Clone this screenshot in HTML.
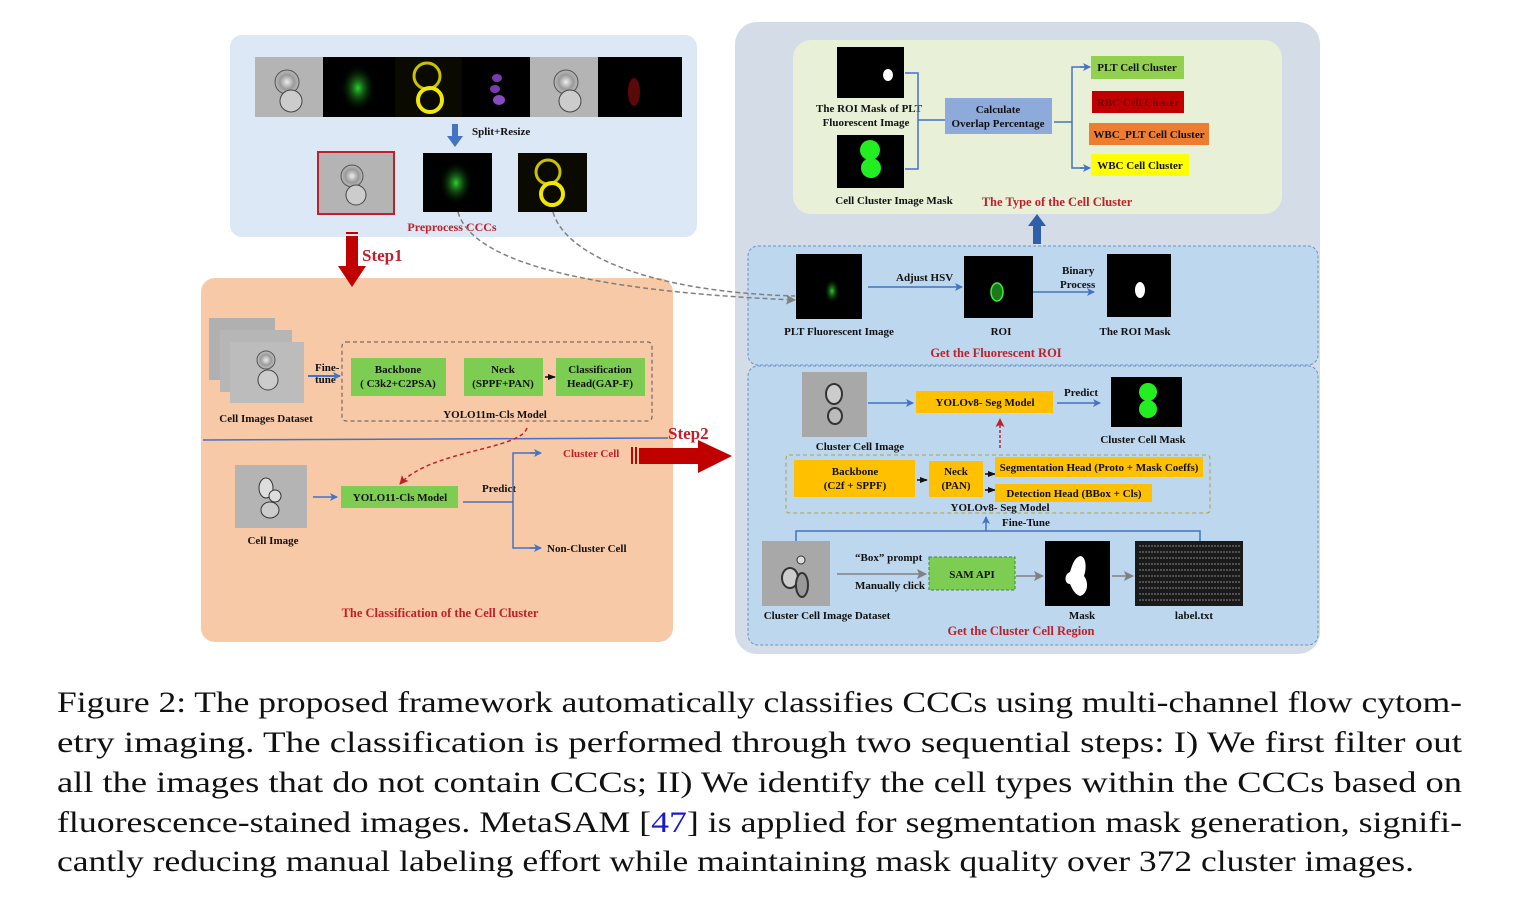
<!DOCTYPE html>
<html><head><meta charset="utf-8"><style>
html,body{margin:0;padding:0;background:#fff;}
svg{display:block;}
.b{font-family:"Liberation Serif",serif;font-weight:bold;font-size:11px;fill:#111;}
.r{font-family:"Liberation Serif",serif;font-weight:bold;fill:#c0202a;}
.cap{font-family:"Liberation Serif",serif;font-size:30px;fill:#111;}
</style></head><body>
<svg width="1513" height="912" viewBox="0 0 1513 912" xmlns="http://www.w3.org/2000/svg">
<defs>
<marker id="ab" markerWidth="8" markerHeight="8" refX="7" refY="4" orient="auto" markerUnits="userSpaceOnUse"><path d="M0,0 L8,4 L0,8 L2,4z" fill="#4472c4"/></marker>
<marker id="ak" markerWidth="8" markerHeight="8" refX="7" refY="4" orient="auto" markerUnits="userSpaceOnUse"><path d="M0,1 L8,4 L0,7z" fill="#111"/></marker>
<marker id="ag" markerWidth="10" markerHeight="10" refX="9" refY="5" orient="auto" markerUnits="userSpaceOnUse"><path d="M0,0 L10,5 L0,10 L2,5z" fill="#808080"/></marker>
<marker id="ar" markerWidth="9" markerHeight="9" refX="8" refY="4.5" orient="auto" markerUnits="userSpaceOnUse"><path d="M0,0 L9,4.5 L0,9 L2,4.5z" fill="#c0202a"/></marker>
<radialGradient id="gg"><stop offset="0" stop-color="#2fd02f"/><stop offset="1" stop-color="#000" stop-opacity="0"/></radialGradient>
<radialGradient id="gc"><stop offset="0" stop-color="#eee"/><stop offset="0.6" stop-color="#999"/><stop offset="1" stop-color="#aaa" stop-opacity="0"/></radialGradient>
</defs>

<!-- Top-left panel -->
<rect x="230" y="35" width="467" height="202" rx="12" fill="#dce8f5"/>
<rect x="255" y="57" width="68" height="60" fill="#b4b4b4"/>
<circle cx="287" cy="82" r="12" fill="url(#gc)" stroke="#555"/><circle cx="291" cy="101" r="11" fill="#ccc" stroke="#444"/>
<rect x="323" y="57" width="72" height="60" fill="#000"/>
<ellipse cx="358" cy="88" rx="18" ry="24" fill="url(#gg)"/>
<rect x="395" y="57" width="67" height="60" fill="#0a0a00"/>
<circle cx="427" cy="76" r="13" fill="none" stroke="#c8c000" stroke-width="3"/><circle cx="430" cy="100" r="12" fill="none" stroke="#f0e800" stroke-width="4"/>
<rect x="462" y="57" width="68" height="60" fill="#000"/>
<ellipse cx="497" cy="78" rx="5" ry="4" fill="#7a3ab0"/><ellipse cx="495" cy="89" rx="5" ry="4" fill="#7a3ab0"/><ellipse cx="499" cy="100" rx="6" ry="5" fill="#8a4ac0"/>
<rect x="530" y="57" width="68" height="60" fill="#b4b4b4"/>
<circle cx="566" cy="82" r="12" fill="url(#gc)" stroke="#555"/><circle cx="570" cy="101" r="11" fill="#ccc" stroke="#444"/>
<rect x="598" y="57" width="84" height="60" fill="#000"/>
<ellipse cx="634" cy="92" rx="6" ry="14" fill="#5a0808"/>
<path d="M452,124 h6 v12 h5 l-8,11 l-8,-11 h5z" fill="#4472c4"/>
<text x="472" y="135" class="b" font-size="10">Split+Resize</text>
<rect x="318" y="152" width="76" height="62" fill="#b4b4b4" stroke="#c0202a" stroke-width="2"/>
<circle cx="352" cy="176" r="11" fill="url(#gc)" stroke="#555"/><circle cx="356" cy="195" r="10" fill="#ccc" stroke="#444"/>
<rect x="423" y="153" width="69" height="59" fill="#000"/>
<ellipse cx="456" cy="183" rx="17" ry="22" fill="url(#gg)"/>
<rect x="518" y="153" width="69" height="59" fill="#0a0a00"/>
<circle cx="548" cy="172" r="12" fill="none" stroke="#c8c000" stroke-width="3"/><circle cx="552" cy="194" r="11" fill="none" stroke="#f0e800" stroke-width="4"/>
<text x="452" y="231" class="r" font-size="12" text-anchor="middle">Preprocess CCCs</text>

<!-- Orange panel -->
<rect x="201" y="278" width="472" height="364" rx="14" fill="#f7c9a7"/>
<rect x="346" y="232" width="12" height="2" fill="#c00000"/><rect x="346" y="236" width="12" height="32" fill="#c00000"/>
<path d="M338,266 h28 l-14,21z" fill="#c00000"/>
<text x="362" y="261" class="r" font-size="17">Step1</text>

<rect x="209" y="318" width="66" height="62" fill="#b0b0b0"/>
<rect x="220" y="330" width="72" height="62" fill="#b6b6b6"/>
<rect x="230" y="342" width="74" height="61" fill="#bcbcbc"/>
<circle cx="266" cy="360" r="9" fill="url(#gc)" stroke="#555"/><circle cx="268" cy="380" r="10" fill="#ccc" stroke="#444"/>
<text x="315" y="371" class="b">Fine-</text><text x="315" y="383" class="b">tune</text>
<line x1="308" y1="376" x2="340" y2="376" stroke="#4472c4" stroke-width="2" marker-end="url(#ab)"/>
<rect x="342" y="342" width="310" height="79" rx="4" fill="none" stroke="#555" stroke-dasharray="4,3"/>
<rect x="351" y="358" width="95" height="38" fill="#7dcd52"/>
<text x="398" y="373" class="b" text-anchor="middle">Backbone</text><text x="398" y="387" class="b" text-anchor="middle">( C3k2+C2PSA)</text>
<rect x="464" y="358" width="79" height="38" fill="#7dcd52"/>
<text x="503" y="373" class="b" text-anchor="middle">Neck</text><text x="503" y="387" class="b" text-anchor="middle">(SPPF+PAN)</text>
<line x1="545" y1="377" x2="555" y2="377" stroke="#111" stroke-width="1.5" marker-end="url(#ak)"/>
<rect x="556" y="358" width="89" height="38" fill="#7dcd52"/>
<text x="600" y="373" class="b" text-anchor="middle">Classification</text><text x="600" y="387" class="b" text-anchor="middle">Head(GAP-F)</text>
<text x="495" y="418" class="b" text-anchor="middle">YOLO11m-Cls Model</text>
<text x="266" y="422" class="b" text-anchor="middle">Cell Images Dataset</text>
<line x1="203" y1="440" x2="668" y2="438" stroke="#4472c4" stroke-width="1.5"/>
<path d="M527,428 C520,450 430,450 400,484" fill="none" stroke="#c0202a" stroke-width="1.5" stroke-dasharray="4,3" marker-end="url(#ar)"/>
<rect x="235" y="465" width="72" height="63" fill="#b4b4b4"/>
<ellipse cx="266" cy="488" rx="7" ry="10" fill="#ddd" stroke="#333"/><circle cx="275" cy="496" r="6" fill="#ddd" stroke="#333"/><ellipse cx="270" cy="510" rx="9" ry="8" fill="#ccc" stroke="#333"/>
<text x="273" y="544" class="b" text-anchor="middle">Cell Image</text>
<line x1="313" y1="497" x2="337" y2="497" stroke="#4472c4" stroke-width="1.5" marker-end="url(#ab)"/>
<rect x="341" y="486" width="117" height="22" fill="#7dcd52"/>
<text x="400" y="501" class="b" text-anchor="middle">YOLO11-Cls Model</text>
<text x="482" y="492" class="b">Predict</text>
<polyline points="463,502 513,502" fill="none" stroke="#4472c4" stroke-width="1.5"/>
<polyline points="540,453 513,453 513,548 540,548" fill="none" stroke="#4472c4" stroke-width="1.5"/>
<line x1="530" y1="453" x2="541" y2="453" stroke="#4472c4" stroke-width="1.5" marker-end="url(#ab)"/>
<line x1="530" y1="548" x2="541" y2="548" stroke="#4472c4" stroke-width="1.5" marker-end="url(#ab)"/>
<text x="563" y="457" class="b" style="fill:#c0202a">Cluster Cell</text>
<text x="547" y="552" class="b">Non-Cluster Cell</text>
<text x="440" y="617" class="r" font-size="12.5" text-anchor="middle">The Classification of the Cell  Cluster</text>

<!-- Right big panel -->
<rect x="735" y="22" width="585" height="632" rx="22" fill="#d4dce8"/>
<text x="668" y="439" class="r" font-size="17">Step2</text>
<rect x="631" y="447" width="2" height="17" fill="#c00000"/><rect x="635" y="447" width="2" height="17" fill="#c00000"/>
<rect x="639" y="448" width="60" height="16" fill="#c00000"/>
<path d="M698,440 L732,456 L698,473z" fill="#c00000"/>

<rect x="793" y="40" width="489" height="174" rx="18" fill="#e8f0d8"/>
<rect x="837" y="47" width="67" height="51" fill="#000"/>
<ellipse cx="888" cy="75" rx="5" ry="6" fill="#fff"/>
<text x="869" y="112" class="b" text-anchor="middle">The ROI Mask of  PLT</text>
<text x="866" y="126" class="b" text-anchor="middle">Fluorescent Image</text>
<rect x="837" y="135" width="67" height="53" fill="#000"/>
<circle cx="870" cy="150" r="10" fill="#22ee22"/><circle cx="871" cy="168" r="10" fill="#22ee22"/>
<text x="894" y="204" class="b" text-anchor="middle">Cell Cluster Image Mask</text>
<polyline points="905,73 918,73 918,169 905,169" fill="none" stroke="#4472c4" stroke-width="1.5"/>
<line x1="918" y1="120" x2="945" y2="120" stroke="#4472c4" stroke-width="1.5"/>
<rect x="945" y="98" width="107" height="36" fill="#8eaadb"/>
<text x="998" y="113" class="b" text-anchor="middle">Calculate</text><text x="998" y="127" class="b" text-anchor="middle">Overlap Percentage</text>
<line x1="1054" y1="122" x2="1072" y2="122" stroke="#4472c4" stroke-width="1.5"/>
<polyline points="1088,67 1072,67 1072,168 1088,168" fill="none" stroke="#4472c4" stroke-width="1.5"/>
<line x1="1080" y1="67" x2="1090" y2="67" stroke="#4472c4" stroke-width="1.5" marker-end="url(#ab)"/>
<line x1="1080" y1="168" x2="1090" y2="168" stroke="#4472c4" stroke-width="1.5" marker-end="url(#ab)"/>
<rect x="1091" y="56" width="93" height="23" fill="#92d050"/><text x="1137" y="71" class="b" text-anchor="middle">PLT Cell Cluster</text>
<rect x="1092" y="91" width="92" height="22" fill="#c00000"/><text x="1138" y="106" class="b" text-anchor="middle" style="fill:#7a0000">RBC Cell Cluster</text>
<rect x="1089" y="123" width="120" height="22" fill="#ed7d31"/><text x="1149" y="138" class="b" text-anchor="middle">WBC_PLT Cell Cluster</text>
<rect x="1091" y="154" width="98" height="22" fill="#ffff00"/><text x="1140" y="169" class="b" text-anchor="middle">WBC Cell Cluster</text>
<text x="1057" y="206" class="r" font-size="12.5" text-anchor="middle">The Type of the Cell Cluster</text>
<path d="M1033,244 v-18 h-5 l9,-12 l9,12 h-5 v18z" fill="#2f5fa8"/>

<!-- ROI panel -->
<rect x="748" y="246" width="570" height="119" rx="10" fill="#bdd7ee" stroke="#6f8fc4" stroke-dasharray="3,2"/>
<path d="M458,212 C470,255 560,290 795,300" fill="none" stroke="#808080" stroke-width="1.5" stroke-dasharray="5,3" marker-end="url(#ag)"/>
<path d="M553,212 C565,255 650,292 795,296" fill="none" stroke="#808080" stroke-width="1.5" stroke-dasharray="5,3"/>
<rect x="796" y="254" width="66" height="65" fill="#000"/>
<ellipse cx="832" cy="291" rx="8" ry="13" fill="url(#gg)"/>
<text x="839" y="335" class="b" text-anchor="middle">PLT Fluorescent Image</text>
<text x="896" y="281" class="b">Adjust  HSV</text>
<line x1="868" y1="287" x2="962" y2="287" stroke="#4472c4" stroke-width="1.5" marker-end="url(#ab)"/>
<rect x="964" y="256" width="69" height="62" fill="#000"/>
<ellipse cx="997" cy="292" rx="6" ry="9" fill="#1a7a1a" stroke="#3ef03e" stroke-width="1.5"/>
<text x="1001" y="335" class="b" text-anchor="middle">ROI</text>
<text x="1062" y="274" class="b">Binary</text><text x="1060" y="288" class="b">Process</text>
<line x1="1033" y1="292" x2="1094" y2="292" stroke="#4472c4" stroke-width="1.5" marker-end="url(#ab)"/>
<rect x="1107" y="254" width="64" height="63" fill="#000"/>
<ellipse cx="1140" cy="290" rx="5" ry="8" fill="#fff"/>
<text x="1135" y="335" class="b" text-anchor="middle">The ROI Mask</text>
<text x="996" y="357" class="r" font-size="12.5" text-anchor="middle">Get the Fluorescent  ROI</text>

<!-- Seg panel -->
<rect x="748" y="366" width="570" height="279" rx="10" fill="#bdd7ee" stroke="#6f8fc4" stroke-dasharray="3,2"/>
<rect x="802" y="372" width="65" height="65" fill="#a8a8a8"/>
<ellipse cx="834" cy="394" rx="8" ry="10" fill="#ccc" stroke="#333" stroke-width="2"/><ellipse cx="835" cy="416" rx="7" ry="8" fill="#bbb" stroke="#333" stroke-width="2"/>
<text x="860" y="450" class="b" text-anchor="middle">Cluster Cell Image</text>
<line x1="868" y1="403" x2="913" y2="403" stroke="#4472c4" stroke-width="1.5" marker-end="url(#ab)"/>
<rect x="916" y="391" width="137" height="22" fill="#ffc000"/>
<text x="985" y="406" class="b" text-anchor="middle">YOLOv8- Seg Model</text>
<text x="1064" y="396" class="b">Predict</text>
<line x1="1057" y1="403" x2="1100" y2="403" stroke="#4472c4" stroke-width="1.5" marker-end="url(#ab)"/>
<rect x="1111" y="377" width="71" height="50" fill="#000"/>
<circle cx="1148" cy="392" r="9" fill="#22ee22"/><circle cx="1148" cy="409" r="9" fill="#22ee22"/>
<text x="1143" y="443" class="b" text-anchor="middle">Cluster Cell Mask</text>
<line x1="1000" y1="448" x2="1000" y2="419" stroke="#c0202a" stroke-width="1.5" stroke-dasharray="3,2" marker-end="url(#ar)"/>
<rect x="786" y="455" width="424" height="58" rx="3" fill="none" stroke="#b0a040" stroke-dasharray="4,3"/>
<rect x="794" y="460" width="121" height="37" fill="#ffc000"/>
<text x="855" y="475" class="b" text-anchor="middle">Backbone</text><text x="855" y="489" class="b" text-anchor="middle">(C2f + SPPF)</text>
<line x1="917" y1="480" x2="927" y2="480" stroke="#111" stroke-width="1.5" marker-end="url(#ak)"/>
<rect x="929" y="461" width="54" height="36" fill="#ffc000"/>
<text x="956" y="475" class="b" text-anchor="middle">Neck</text><text x="956" y="489" class="b" text-anchor="middle">(PAN)</text>
<line x1="985" y1="474" x2="995" y2="474" stroke="#111" stroke-width="1.5" marker-end="url(#ak)"/>
<line x1="985" y1="490" x2="995" y2="490" stroke="#111" stroke-width="1.5" marker-end="url(#ak)"/>
<rect x="995" y="457" width="208" height="20" fill="#ffc000"/>
<text x="1099" y="471" class="b" text-anchor="middle">Segmentation Head (Proto + Mask Coeffs)</text>
<rect x="995" y="484" width="157" height="18" fill="#ffc000"/>
<text x="1074" y="497" class="b" text-anchor="middle">Detection Head (BBox + Cls)</text>
<text x="1000" y="511" class="b" text-anchor="middle">YOLOv8- Seg Model</text>
<polyline points="796,541 796,531 1200,531 1200,541" fill="none" stroke="#4472c4" stroke-width="1.5"/>
<line x1="986" y1="531" x2="986" y2="517" stroke="#4472c4" stroke-width="1.5" marker-end="url(#ab)"/>
<text x="1002" y="526" class="b">Fine-Tune</text>
<rect x="762" y="541" width="68" height="65" fill="#a8a8a8"/>
<ellipse cx="790" cy="578" rx="8" ry="10" fill="#ccc" stroke="#333" stroke-width="2"/><ellipse cx="802" cy="585" rx="6" ry="12" fill="#999" stroke="#333" stroke-width="2"/><circle cx="801" cy="560" r="4" fill="#ddd" stroke="#333"/>
<text x="827" y="619" class="b" text-anchor="middle">Cluster Cell Image Dataset</text>
<text x="855" y="561" class="b" font-size="12.5">“Box” prompt</text>
<text x="855" y="589" class="b" font-size="12.5">Manually click</text>
<line x1="837" y1="574" x2="926" y2="574" stroke="#808080" stroke-width="1.5" marker-end="url(#ag)"/>
<rect x="929" y="557" width="86" height="33" fill="#7dcd52" stroke="#3a8a2a" stroke-dasharray="3,2"/>
<text x="972" y="578" class="b" font-size="15" text-anchor="middle">SAM API</text>
<line x1="1016" y1="576" x2="1043" y2="576" stroke="#808080" stroke-width="1.5" marker-end="url(#ag)"/>
<rect x="1045" y="541" width="65" height="65" fill="#000"/>
<path d="M1080,556 c6,0 7,12 4,20 c5,6 4,18 -4,20 c-6,-2 -8,-8 -10,-12 c-6,0 -6,-10 0,-12 c2,-6 4,-14 10,-16z" fill="#fff"/>
<text x="1082" y="619" class="b" text-anchor="middle">Mask</text>
<line x1="1112" y1="576" x2="1133" y2="576" stroke="#808080" stroke-width="1.5" marker-end="url(#ag)"/>
<rect x="1135" y="541" width="108" height="65" fill="#1a1a1a"/>
<g stroke="#888" stroke-width="1" stroke-dasharray="2,1">
<line x1="1139" y1="546" x2="1240" y2="546"/><line x1="1139" y1="552" x2="1240" y2="552"/><line x1="1139" y1="558" x2="1240" y2="558"/><line x1="1139" y1="564" x2="1240" y2="564"/><line x1="1139" y1="570" x2="1240" y2="570"/><line x1="1139" y1="576" x2="1240" y2="576"/><line x1="1139" y1="582" x2="1240" y2="582"/><line x1="1139" y1="588" x2="1240" y2="588"/><line x1="1139" y1="594" x2="1240" y2="594"/><line x1="1139" y1="600" x2="1240" y2="600"/>
</g>
<text x="1194" y="619" class="b" text-anchor="middle">label.txt</text>
<text x="1021" y="635" class="r" font-size="12.5" text-anchor="middle">Get the Cluster Cell Region</text>

<!-- Caption -->
<text class="cap" x="57" y="712" textLength="1405" lengthAdjust="spacingAndGlyphs">Figure 2: The proposed framework automatically classifies CCCs using multi-channel flow cytom-</text>
<text class="cap" x="57" y="752" textLength="1405" lengthAdjust="spacingAndGlyphs">etry imaging.  The classification is performed through two sequential steps: I) We first filter out</text>
<text class="cap" x="57" y="792" textLength="1405" lengthAdjust="spacingAndGlyphs">all the images that do not contain CCCs; II) We identify the cell types within the CCCs based on</text>
<text class="cap" x="57" y="832" textLength="1405" lengthAdjust="spacingAndGlyphs">fluorescence-stained images.  MetaSAM [<tspan fill="#1a1acc">47</tspan>] is applied for segmentation mask generation, signifi-</text>
<text class="cap" x="57" y="871" textLength="1357" lengthAdjust="spacingAndGlyphs">cantly reducing manual labeling effort while maintaining mask quality over 372 cluster images.</text>
</svg>
</body></html>
